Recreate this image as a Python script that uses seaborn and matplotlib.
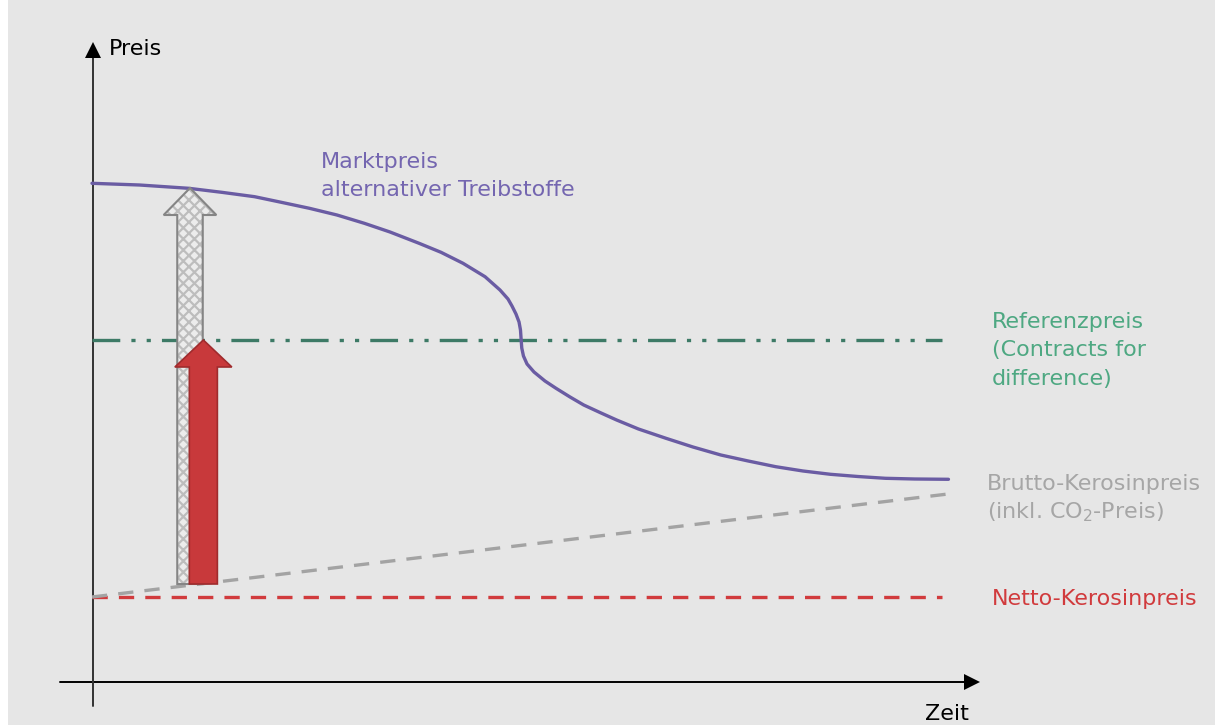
import numpy as np
import pandas as pd
import matplotlib
matplotlib.use('Agg')
import matplotlib.pyplot as plt
import seaborn as sns
from matplotlib.patches import FancyArrow

# data ----------------------------------------------------------------
# market price of alternative fuels
markt_zeit = [0.0, 0.558, 1.138, 1.526, 1.913, 2.21, 2.558, 2.882, 3.204, 3.506,
              3.848, 4.106, 4.365, 4.624, 4.8, 4.894, 4.941, 4.988, 5.024, 5.041,
              5.049, 5.056, 5.076, 5.118, 5.2, 5.329, 5.459, 5.624, 5.785, 5.976,
              6.172, 6.429, 6.753, 7.07, 7.398, 7.72, 8.044, 8.365, 8.688, 9.01,
              9.334, 9.68, 10.076]
markt_preis = [9.974, 9.94, 9.874, 9.794, 9.706, 9.60, 9.474, 9.34, 9.174, 9.0,
               8.774, 8.594, 8.374, 8.106, 7.84, 7.66, 7.52, 7.36, 7.20, 7.04,
               6.84, 6.68, 6.52, 6.36, 6.20, 6.02, 5.874, 5.70, 5.54, 5.39,
               5.24, 5.06, 4.874, 4.70, 4.54, 4.42, 4.306, 4.22, 4.154, 4.11,
               4.074, 4.06, 4.054]

ref_zeit = [0.0, 10.0]
ref_preis = [6.84, 6.84]

brutto_zeit = [0.0, 10.07]
brutto_preis = [1.70, 3.76]

netto_zeit = [0.0, 10.0]
netto_preis = [1.70, 1.70]

# arrows: CfD payment (red) and full premium (hatched)
pfeil_zeit_grau = 1.153
pfeil_zeit_rot = 1.31
pfeil_basis = 1.96
pfeil_ziel_grau = 9.88
pfeil_ziel_rot = 6.84

sns.set_theme(style='white')
plt.rcParams['font.family'] = ['DejaVu Sans']
plt.rcParams['lines.scale_dashes'] = False
plt.rcParams['hatch.linewidth'] = 1.6

fig = plt.figure(figsize=(12.15, 7.25), dpi=100, facecolor='white')
ax = fig.add_axes([8 / 1215, 0, 1207 / 1215, 1])
ax.set_facecolor('#e6e6e6')
ax.set_xlim(-84 / 85, 1123 / 85)
ax.set_ylim(-43 / 50, 682 / 50)
ax.set_xticks([])
ax.set_yticks([])
sns.despine(ax=ax, left=True, bottom=True)


def at(px, py):
    # pixel position in the picture -> data coords
    return (px - 92) / 85, (682 - py) / 50


# axes with arrow heads
x0, y0 = at(60, 682)
x1, _ = at(972, 682)
ax.plot([x0, x1], [y0, y0], color='black', lw=1.4, zorder=2)
ax.plot([x1], [y0], marker='>', color='black', ms=11, mew=0, zorder=2)
xa, ya = at(92.5, 706)
_, yb = at(92.5, 50)
ax.plot([xa, xa], [ya, yb], color='#333333', lw=1.4, zorder=2)
ax.plot([xa], [yb], marker='^', color='black', ms=11, mew=0, zorder=2)

# lines
sns.lineplot(x=netto_zeit, y=netto_preis, ax=ax, color='#d13b3d', lw=2.4)
ax.lines[-1].set_linestyle((0, (11, 8)))
sns.lineplot(x=brutto_zeit, y=brutto_preis, ax=ax, color='#a3a3a3', lw=2.4)
ax.lines[-1].set_linestyle((0, (11, 8)))
sns.lineplot(x=ref_zeit, y=ref_preis, ax=ax, color='#3d7a66', lw=2.4)
ax.lines[-1].set_linestyle((0, (20, 8, 3, 8, 3, 8)))
sns.lineplot(x=markt_zeit, y=markt_preis, ax=ax, color='#6a5ca3', lw=2.4, sort=False)
ax.lines[-1].set_solid_joinstyle('round')

# arrows
pfeil_grau = dict(width=0.30, head_width=0.62, head_length=0.54,
                  length_includes_head=True, zorder=4)
ax.add_patch(FancyArrow(pfeil_zeit_grau, pfeil_basis, 0, pfeil_ziel_grau - pfeil_basis,
                        facecolor='#ececec', edgecolor='#bdbdbd', hatch='xxx',
                        lw=0, **pfeil_grau))
ax.add_patch(FancyArrow(pfeil_zeit_grau, pfeil_basis, 0, pfeil_ziel_grau - pfeil_basis,
                        fill=False, edgecolor='#858585', lw=1.5, **pfeil_grau))
rot = FancyArrow(pfeil_zeit_rot, pfeil_basis, 0, pfeil_ziel_rot - pfeil_basis,
                 width=0.33, head_width=0.67, head_length=0.54,
                 length_includes_head=True, facecolor='#c8393b',
                 edgecolor='#a02b2d', lw=1.2, zorder=5)
ax.add_patch(rot)

# labels
fs = 16
ax.text(*at(109, 55), 'Preis', fontsize=fs, color='black', va='baseline')
ax.text(*at(925, 720), 'Zeit', fontsize=fs, color='black', va='baseline')
ax.text(*at(321, 168), 'Marktpreis', fontsize=fs, color='#7466b0', va='baseline')
ax.text(*at(321, 196), 'alternativer Treibstoffe', fontsize=fs, color='#7466b0', va='baseline')
ax.text(*at(992, 328), 'Referenzpreis', fontsize=fs, color='#4ea882', va='baseline')
ax.text(*at(992, 356), '(Contracts for', fontsize=fs, color='#4ea882', va='baseline')
ax.text(*at(992, 385), 'difference)', fontsize=fs, color='#4ea882', va='baseline')
ax.text(*at(987, 490), 'Brutto-Kerosinpreis', fontsize=fs, color='#a6a6a6', va='baseline')
ax.text(*at(987, 518), r'(inkl. CO$_2$-Preis)', fontsize=fs, color='#a6a6a6', va='baseline')
ax.text(*at(992, 605), 'Netto-Kerosinpreis', fontsize=fs, color='#d13b3d', va='baseline')

fig.savefig('out.png', dpi=100, facecolor=fig.get_facecolor())
